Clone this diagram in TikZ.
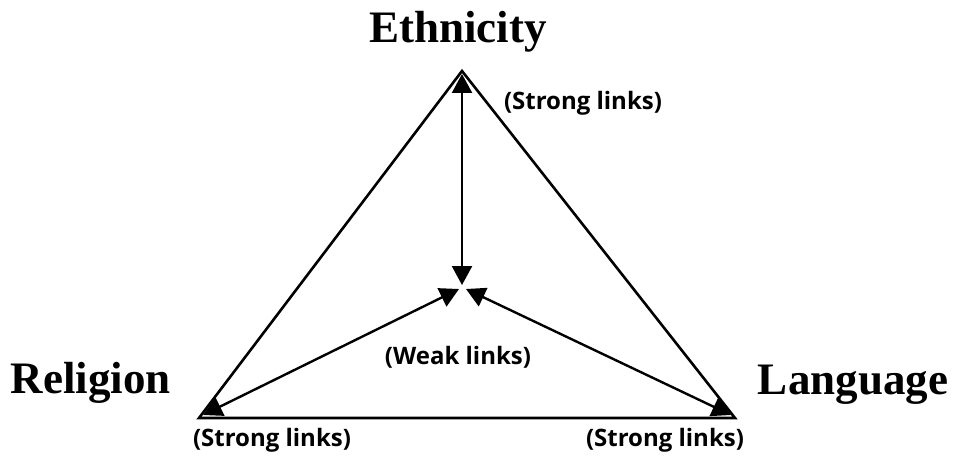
\documentclass[tikz,border=0pt]{standalone}
\usepackage{fontspec}
\setmainfont{Liberation Serif}
\newfontfamily\lblfont{Open Sans}
\usetikzlibrary{arrows.meta}
\begin{document}
\begin{tikzpicture}[x=1pt,y=1pt,
  edge/.style={line width=2.6pt},
  link/.style={line width=2.4pt,{Triangle[length=19pt,width=20pt]}-{Triangle[length=19pt,width=20pt]}},
  title/.style={font=\fontsize{45}{47}\selectfont\bfseries,inner sep=0pt},
  lbl/.style={font=\lblfont\fontsize{24}{26}\selectfont\bfseries,inner sep=0pt}]
\useasboundingbox (0,0) rectangle (954,459);
\coordinate (E) at (462,388);
\coordinate (R) at (199,41);
\coordinate (L) at (735,41);
\coordinate (Cv) at (462,174);
\coordinate (Cl) at (459,170);
\coordinate (Cr) at (466,170);
\draw[edge,line join=miter] (E) -- (R) -- (L) -- cycle;
\draw[link] ([yshift=-3pt]E) -- (Cv);
\draw[link] ([shift={(4,3)}]R) -- (Cl);
\draw[link] ([shift={(-4,3)}]L) -- (Cr);
\node[title] (te) at (458,427) {Ethnicity};
\node[title] (tr) at (91,76) {Religion};
\node[title] (tl) at (853,74) {Language};
\node[lbl] (s1) at (583,356) {(Strong links)};
\node[lbl] (w) at (458,102) {(Weak links)};
\node[lbl] (s2) at (272,19) {(Strong links)};
\node[lbl] (s3) at (665,19) {(Strong links)};
\end{tikzpicture}
\end{document}
